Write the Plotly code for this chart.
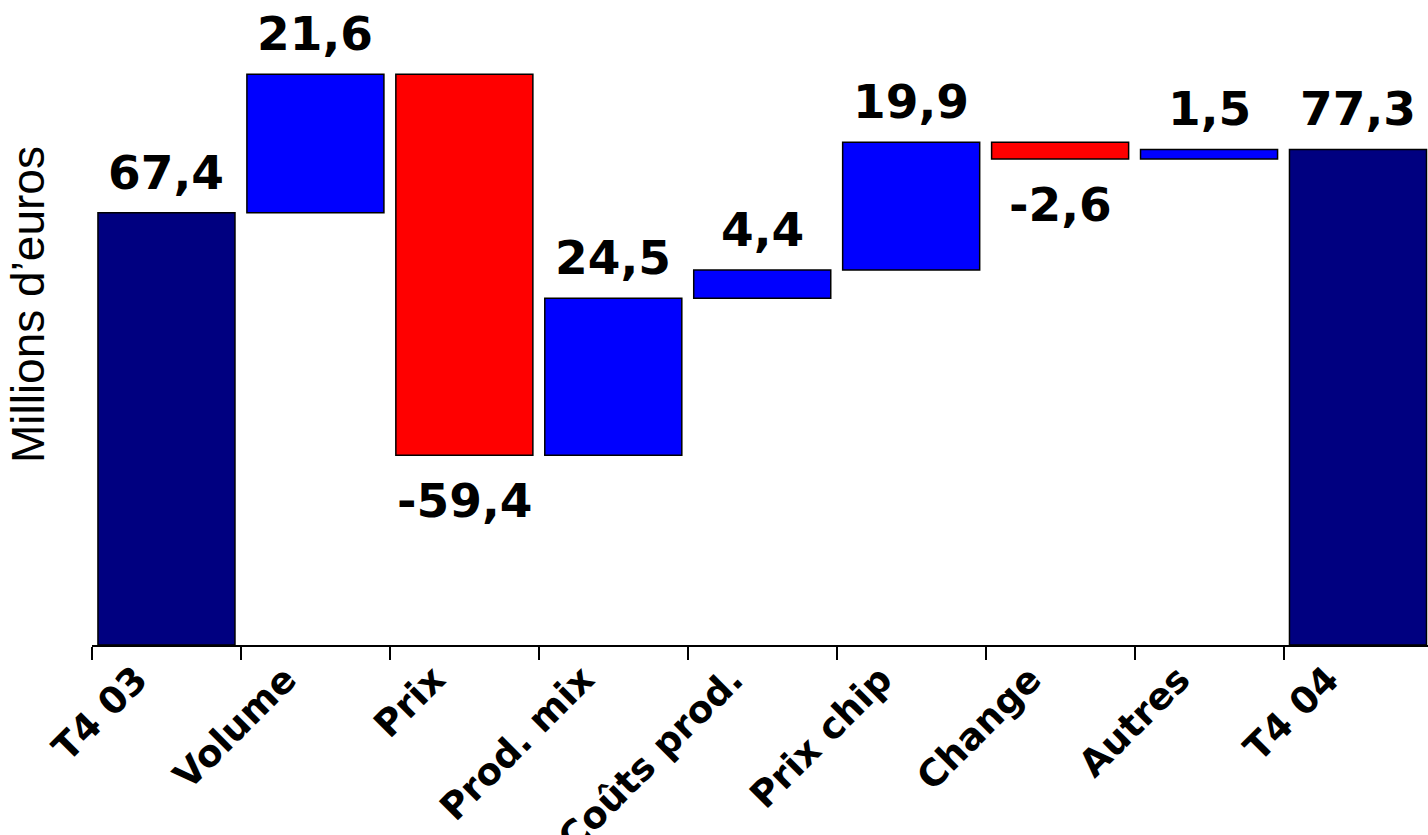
import plotly.graph_objects as go

# Quarterly bridge: T4 03 -> T4 04 (millions d'euros)
categories = ["T4 03", "Volume", "Prix", "Prod. mix", "Coûts prod.",
              "Prix chip", "Change", "Autres", "T4 04"]
values = [67.4, 21.6, -59.4, 24.5, 4.4, 19.9, -2.6, 1.5, 77.3]
measures = ["absolute", "relative", "relative", "relative", "relative",
            "relative", "relative", "relative", "total"]

NAVY = "#000080"
BLUE = "#0000FF"
RED = "#FF0000"
LABEL_FONT = dict(family="DejaVu Sans", size=47, color="black", weight="bold")


def fr(v):
    return f"{v:.1f}".replace(".", ",")


fig = go.Figure(go.Waterfall(
    x=categories,
    y=values,
    measure=measures,
    connector=dict(visible=False),
    increasing=dict(marker=dict(color=BLUE, line=dict(color="black", width=1.5))),
    decreasing=dict(marker=dict(color=RED, line=dict(color="black", width=1.5))),
    totals=dict(marker=dict(color=NAVY, line=dict(color="black", width=1.5))),
    hoverinfo="skip",
))

# value labels above rising/total bars, below falling bars
running = 0.0
annotations = []
for cat, val, meas in zip(categories, values, measures):
    if meas == "absolute":
        lo, hi = 0.0, val
        running = val
    elif meas == "total":
        lo, hi = 0.0, running
    else:
        lo, hi = sorted((running, running + val))
        running += val
    if val >= 0:
        annotations.append(dict(x=cat, y=hi, xref="x", yref="y", text=fr(val),
                                showarrow=False, yanchor="bottom", yshift=11,
                                font=LABEL_FONT))
    else:
        annotations.append(dict(x=cat, y=lo, xref="x", yref="y", text=fr(val),
                                showarrow=False, yanchor="top", yshift=-16,
                                font=LABEL_FONT))

annotations.append(dict(
    text="Millions d’euros", xref="paper", yref="paper", x=0, y=0.527,
    xshift=-64, xanchor="center", yanchor="middle", textangle=-90,
    showarrow=False,
    font=dict(family="Liberation Sans, Arial", size=46, color="black"),
))

fig.update_layout(
    width=1428, height=835,
    margin=dict(l=92, r=0, t=0, b=190, autoexpand=False),
    paper_bgcolor="white", plot_bgcolor="white",
    waterfallgap=0.08,
    showlegend=False,
    annotations=annotations,
    xaxis=dict(
        range=[-0.5, 8.47], automargin=False,
        showline=True, linecolor="black", linewidth=1.5,
        ticks="outside", tickson="boundaries", ticklen=13,
        tickcolor="black", tickwidth=1.5,
        tickangle=-45, ticklabelshift=-30, ticklabelstandoff=-4,
        tickfont=dict(family="DejaVu Sans", size=37, color="black", weight="bold"),
        showgrid=False, zeroline=False, fixedrange=True,
    ),
    yaxis=dict(range=[0, 100.6], visible=False, fixedrange=True, automargin=False),
)

fig.write_html("out.html")
